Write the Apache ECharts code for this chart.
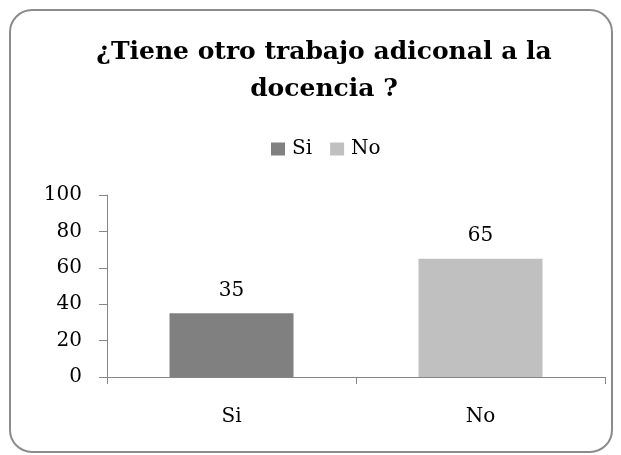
<!DOCTYPE html>
<html>
<head>
<meta charset="utf-8">
<script src="https://cdn.jsdelivr.net/npm/echarts@6/dist/echarts.min.js"></script>
<style>
  html, body { margin: 0; padding: 0; background: #fff; }
  #chart { width: 621px; height: 455px; }
</style>
</head>
<body>
<div id="chart"></div>
<script>
// chart data
const categories = ['Si', 'No'];
const counts = [35, 65];
const barColors = ['#808080', '#C0C0C0'];
const yTicks = [0, 20, 40, 60, 80, 100];

const serif = '"DejaVu Serif", "Liberation Serif", serif';

// one series per category so the legend shows Si / No
const series = categories.map((name, idx) => ({
  name,
  type: 'bar',
  stack: 'all',
  barWidth: 124,
  data: categories.map((c, j) => (j === idx ? counts[idx] : '-')),
  itemStyle: { color: barColors[idx] },
  label: {
    show: true,
    position: 'top',
    distance: 13,
    color: '#000',
    fontFamily: serif,
    fontSize: 20,
  },
}));

const chart = echarts.init(document.getElementById('chart'));
chart.setOption({
  animation: false,
  title: {
    text: '¿Tiene otro trabajo adiconal a la\ndocencia ?',
    left: 319,
    top: 29,
    textAlign: 'center',
    textStyle: {
      fontFamily: serif,
      fontWeight: 'bold',
      fontSize: 25,
      lineHeight: 37,
      color: '#000',
    },
  },
  legend: {
    data: categories,
    left: 266,
    top: 134,
    itemWidth: 14,
    itemHeight: 13,
    itemGap: 18,
    icon: 'rect',
    textStyle: { fontFamily: serif, fontSize: 20, color: '#000', padding: [0, 0, 0, 2] },
  },
  grid: { left: 107, right: 16, top: 195, bottom: 78 },
  xAxis: {
    type: 'category',
    data: categories,
    axisLine: { lineStyle: { color: '#868686', width: 1 } },
    axisTick: { show: true, length: 7, lineStyle: { color: '#868686' } },
    axisLabel: { margin: 30, color: '#000', fontFamily: serif, fontSize: 20 },
  },
  yAxis: {
    type: 'value',
    min: yTicks[0],
    max: yTicks[yTicks.length - 1],
    interval: 20,
    axisLine: { show: true, lineStyle: { color: '#868686', width: 1 } },
    axisTick: { show: true, length: 8, lineStyle: { color: '#868686' } },
    splitLine: { show: false },
    axisLabel: { margin: 25, color: '#000', fontFamily: serif, fontSize: 20 },
  },
  graphic: [{
    type: 'rect',
    shape: { x: 10, y: 10, width: 602, height: 442, r: 22 },
    style: { fill: 'none', stroke: '#8c8c8c', lineWidth: 2 },
    silent: true,
    z: -1,
  }],
  series,
});
</script>
</body>
</html>
